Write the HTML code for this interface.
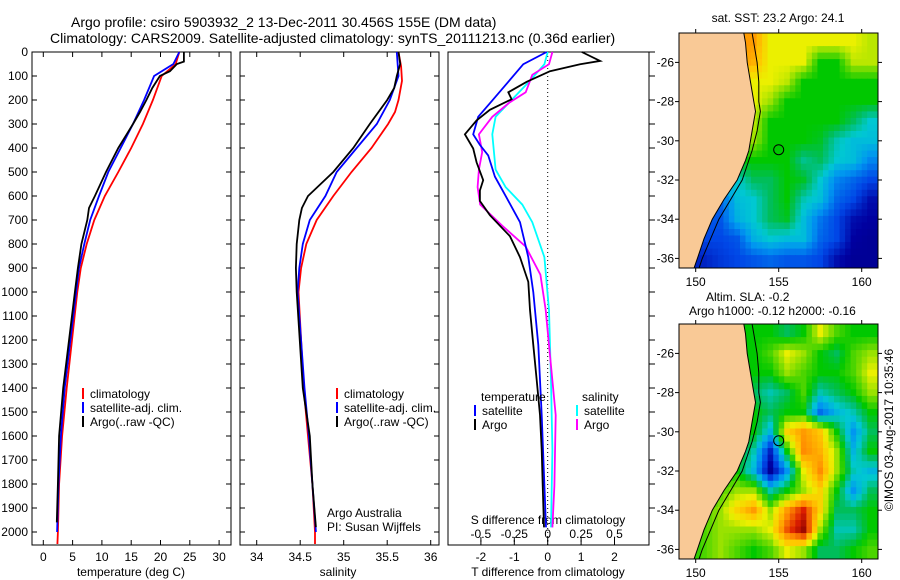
<!DOCTYPE html>
<html><head><meta charset="utf-8"><style>
html,body{margin:0;padding:0;background:#fff}
svg{display:block;font-family:"Liberation Sans",sans-serif}
</style></head><body>
<svg id="s" width="900" height="580" viewBox="0 0 900 580">
<text x="71" y="27" font-size="14">Argo profile: csiro 5903932_2 13-Dec-2011 30.456S 155E (DM data)</text>
<text x="50" y="43" font-size="14">Climatology: CARS2009. Satellite-adjusted climatology: synTS_20111213.nc (0.36d earlier)</text>
<text x="778" y="22" font-size="12" text-anchor="middle">sat. SST: 23.2 Argo: 24.1</text>
<text x="706" y="301" font-size="12">Altim. SLA: -0.2</text>
<text x="689" y="315" font-size="12">Argo h1000: -0.12 h2000: -0.16</text>
<text transform="translate(893,430) rotate(-90)" font-size="12" text-anchor="middle">©IMOS 03-Aug-2017 10:35:46</text>
<g id="g"></g>
</svg>
<script>
// ---- data ----
const tClimD=[0,50,100,200,300,400,500,600,700,800,900,1000,1400,1600,1800,2000,2050];
const tClimV=[23.2,22.6,20.2,18.7,17.0,15.0,12.8,10.5,8.7,7.4,6.4,5.8,4.0,3.2,2.7,2.5,2.4];
const tSatD=[0,50,100,200,300,400,500,600,700,800,900,1000,1400,1600,1800,2000];
const tSatV=[23.2,22.2,18.9,17.2,15.3,13.2,11.1,9.5,8.0,7.0,6.1,5.6,3.65,3.0,2.6,2.35];
const tArgoD=[0,40,50,80,100,150,200,250,300,400,500,600,650,700,800,900,1000,1400,1600,1800,1960];
const tArgoV=[24.0,24.0,22.8,21.6,19.9,18.6,17.6,16.5,15.3,12.8,10.7,8.8,7.8,7.5,6.5,5.9,5.4,3.4,2.7,2.5,2.3];
const sClimD=[0,60,120,200,250,300,400,500,600,700,800,900,1000,1400,1600,1800,2000,2050];
const sClimV=[35.63,35.66,35.67,35.63,35.59,35.51,35.32,35.09,34.88,34.69,34.57,34.51,34.48,34.54,34.59,34.64,34.67,34.67];
const sSatD=[0,100,200,300,400,500,600,700,800,900,1000,1400,1600,1800,2000];
const sSatV=[35.61,35.63,35.53,35.38,35.15,34.92,34.79,34.61,34.53,34.49,34.47,34.55,34.60,34.64,34.68];
const sArgoD=[0,50,100,150,200,300,400,500,600,650,700,800,900,1000,1400,1600,1800,1980];
const sArgoV=[35.63,35.65,35.61,35.58,35.50,35.30,35.11,34.88,34.59,34.52,34.49,34.46,34.45,34.46,34.53,34.61,34.64,34.68];
const dTSatD=[0,51,124,197,270,343,387,431,519,607,709,855,1001,1221,1513,1806,1981];
const dTSatV=[-0.03,-0.73,-1.18,-1.63,-2.08,-2.23,-2.03,-1.78,-1.58,-1.23,-0.83,-0.58,-0.43,-0.28,-0.18,-0.10,-0.05];
const dTArgoD=[0,37,51,80,124,168,197,241,285,343,402,460,534,577,621,680,768,855,958,1075,1221,1367,1513,1659,1806,1981];
const dTArgoV=[1.02,1.57,0.97,0.07,-0.63,-1.18,-1.08,-1.73,-2.13,-2.48,-2.23,-2.13,-1.93,-2.03,-2.03,-1.73,-1.13,-0.83,-0.58,-0.53,-0.43,-0.33,-0.23,-0.18,-0.15,-0.11];
const dSSatD=[0,51,124,197,270,343,490,563,636,709,855,1075,1367,1659,1981];
const dSSatV=[0,-0.025,-0.14,-0.265,-0.39,-0.415,-0.39,-0.315,-0.19,-0.115,-0.025,0.01,0.025,0.035,0.025];
const dSArgoD=[0,51,95,168,212,270,343,417,490,563,636,724,811,928,1075,1221,1513,1806,1981];
const dSArgoV=[0.035,0.01,-0.115,-0.165,-0.29,-0.415,-0.515,-0.49,-0.515,-0.525,-0.505,-0.34,-0.165,-0.055,-0.015,0.01,0.06,0.05,0.035];
const depthTicks=[0,100,200,300,400,500,600,700,800,900,1000,1100,1200,1300,1400,1500,1600,1700,1800,1900,2000];
const tTicks=[0,5,10,15,20,25,30];
const sTicks=[34,34.5,35,35.5,36];
const dTTicks=[-2,-1,0,1,2];
const dSTicks=[-0.5,-0.25,0,0.25,0.5];
const dSTickLabels=["-0.5","-0.25","0","0.25","0.5"];
const lonTicks=[150,155,160];
const latTicks=[-26,-28,-30,-32,-34,-36];
const mapLons=[149.5,150.5,151.5,152.5,153.5,154.5,155.5,156.5,157.5,158.5,159.5,160.5];
const mapLats=[-25,-26,-27,-28,-29,-30,-31,-32,-33,-34,-35,-36];
const sstGrid=[
[.78,.78,.78,.78,.78,.65,.65,.65,.65,.65,.65,.62],
[.78,.78,.78,.78,.75,.65,.65,.65,.5,.5,.62,.62],
[.65,.65,.65,.65,.65,.65,.62,.5,.5,.5,.5,.5],
[.65,.65,.65,.65,.65,.6,.5,.5,.5,.5,.5,.5],
[.65,.65,.65,.65,.62,.5,.5,.5,.5,.5,.45,.38],
[.6,.6,.6,.6,.6,.5,.5,.5,.48,.4,.36,.36],
[.5,.5,.5,.5,.5,.5,.5,.42,.45,.38,.36,.28],
[.4,.4,.4,.38,.45,.45,.5,.48,.38,.28,.24,.2],
[.24,.24,.24,.36,.38,.45,.5,.4,.36,.24,.2,.12],
[.22,.22,.22,.34,.38,.45,.48,.36,.26,.2,.12,.1],
[.2,.2,.2,.22,.34,.38,.36,.36,.24,.2,.1,.08],
[.15,.15,.18,.2,.22,.24,.22,.22,.2,.12,.08,.08]];
const slaGrid=[
[.5,.5,.5,.5,.5,.5,.45,.5,.65,.55,.5,.5],
[.5,.5,.5,.5,.5,.55,.65,.6,.5,.45,.55,.6],
[.5,.5,.5,.5,.5,.5,.6,.55,.5,.5,.55,.65],
[.5,.5,.5,.5,.45,.4,.45,.55,.4,.45,.5,.6],
[.5,.5,.5,.5,.5,.45,.5,.5,.25,.35,.4,.5],
[.5,.5,.5,.5,.5,.35,.7,.78,.72,.5,.3,.45],
[.5,.5,.5,.5,.4,.15,.5,.8,.75,.6,.35,.5],
[.5,.5,.5,.5,.35,.08,.3,.65,.8,.6,.4,.35],
[.5,.5,.55,.6,.6,.4,.5,.6,.7,.5,.3,.45],
[.5,.55,.6,.7,.78,.6,.78,.9,.7,.45,.45,.5],
[.5,.55,.6,.6,.6,.65,.85,.97,.6,.4,.4,.5],
[.5,.55,.6,.55,.5,.55,.65,.6,.45,.45,.5,.55]];
const coastLat=[-24.5,-25,-26,-27,-28,-28.5,-29.5,-30.5,-31,-32,-33,-34,-35,-36,-36.5];
const coastLon=[152.9,153.0,153.1,153.3,153.5,153.6,153.4,153.2,153.0,152.5,151.7,151.0,150.5,150.1,149.9];
const isoLon=[153.4,153.5,153.7,153.8,153.8,153.9,153.7,153.4,153.2,152.8,152.1,151.4,150.9,150.4,150.2];
const argoLon=155, argoLat=-30.456;

// ---- helpers ----
const NS="http://www.w3.org/2000/svg", G=document.getElementById('g');
function mk(tag,at,parent){const e=document.createElementNS(NS,tag);for(const k in at)e.setAttribute(k,at[k]);(parent||G).appendChild(e);return e;}
const y0=52, ky=0.24; const yD=d=>y0+ky*d;
function panel(x1,x2,top,bot,name){
  const r=mk('rect',{x:x1,y:top,width:x2-x1,height:bot-top,fill:'none',stroke:'#000','stroke-width':1});
   
}
function line(D,V,xf,color,name,w){
  const p=mk('polyline',{points:D.map((d,i)=>xf(V[i]).toFixed(1)+','+yD(d).toFixed(1)).join(' '),fill:'none',stroke:color,'stroke-width':w||1.8});
   
}
function txt(x,y,s,anchor,name,size){
  const t=mk('text',{x:x,y:y,'font-size':size||12,'text-anchor':anchor||'start'}); t.textContent=s;
    return t;
}
function tick(x1,y1,x2,y2){const l=mk('line',{x1,y1,x2,y2,stroke:'#000','stroke-width':1});
   }

const TOP=52,BOT=545;
// panel 1 temperature
const xT=v=>43.3+5.86*v;
panel(32,231,TOP,BOT,'temperature-panel');
depthTicks.forEach(d=>{tick(32,yD(d),37,yD(d));tick(226,yD(d),231,yD(d));txt(28,yD(d)+4,String(d),'end','depth-tick-label');});
tTicks.forEach(v=>{tick(xT(v),TOP,xT(v),TOP+5);tick(xT(v),BOT,xT(v),BOT-5);txt(xT(v),561,String(v),'middle','temperature-tick-label');});
txt(131,576,'temperature (deg C)','middle','temperature-axis-title');
line(tClimD,tClimV,xT,'#f00','temperature-climatology-line');
line(tSatD,tSatV,xT,'#00f','temperature-satellite-line');
line(tArgoD,tArgoV,xT,'#000','temperature-argo-line');
[['climatology','#f00',398],['satellite-adj. clim.','#00f',412],['Argo(..raw -QC)','#000',426]].forEach(a=>{
  const m=mk('rect',{x:82,y:a[2]-10,width:2,height:11,fill:a[1]});
  txt(90,a[2],a[0],'start','temperature-legend-entry');});

// panel 2 salinity
const xS=v=>256.7+87*(v-34);
panel(240,439,TOP,BOT,'salinity-panel');
depthTicks.forEach(d=>{tick(240,yD(d),245,yD(d));tick(434,yD(d),439,yD(d));});
sTicks.forEach(v=>{tick(xS(v),TOP,xS(v),TOP+5);tick(xS(v),BOT,xS(v),BOT-5);txt(xS(v),561,String(v),'middle','salinity-tick-label');});
txt(338,576,'salinity','middle','salinity-axis-title');
line(sClimD,sClimV,xS,'#f00','salinity-climatology-line');
line(sSatD,sSatV,xS,'#00f','salinity-satellite-line');
line(sArgoD,sArgoV,xS,'#000','salinity-argo-line');
[['climatology','#f00',398],['satellite-adj. clim.','#00f',412],['Argo(..raw -QC)','#000',426]].forEach(a=>{
  const m=mk('rect',{x:336,y:a[2]-10,width:2,height:11,fill:a[1]});
  txt(344,a[2],a[0],'start','salinity-legend-entry');});
txt(327,517,'Argo Australia','start','argo-australia-label');
txt(327,531,'PI: Susan Wijffels','start','pi-label');

// panel 3 differences
const xdT=v=>547.7+33.4*v, xdS=v=>547.7+133.6*v;
panel(448,649,TOP,BOT,'difference-panel');
depthTicks.forEach(d=>{tick(649,yD(d),655,yD(d));});
const zl=mk('line',{x1:xdT(0),y1:TOP,x2:xdT(0),y2:BOT,stroke:'#000','stroke-width':1,'stroke-dasharray':'1,3'});
 
dTTicks.forEach(v=>{tick(xdT(v),BOT,xdT(v),BOT-5);txt(xdT(v),561,String(v),'middle','t-difference-tick-label');});
dSTicks.forEach((v,i)=>{tick(xdS(v),BOT-3,xdS(v),BOT-8);txt(xdS(v),538,dSTickLabels[i],'middle','s-difference-tick-label');});
txt(548,576,'T difference from climatology','middle','t-difference-axis-title');
txt(548,524,'S difference from climatology','middle','s-difference-axis-title');
line(dSSatD,dSSatV,xdS,'#0ff','salinity-satellite-diff-line');
line(dSArgoD,dSArgoV,xdS,'#f0f','salinity-argo-diff-line');
line(dTSatD,dTSatV,xdT,'#00f','temperature-satellite-diff-line');
line(dTArgoD,dTArgoV,xdT,'#000','temperature-argo-diff-line');
txt(481,401,'temperature','start','diff-legend-heading');
txt(582,401,'salinity','start','diff-legend-heading');
[['satellite','#00f',482,415],['Argo','#000',482,429],['satellite','#0ff',584,415],['Argo','#f0f',584,429]].forEach(a=>{
  const m=mk('rect',{x:a[2]-8,y:a[3]-10,width:2,height:11,fill:a[1]});
  txt(a[2],a[3],a[0],'start','diff-legend-entry');});

// maps
const cStops=[[0,[0,0,110]],[0.1,[0,0,160]],[0.2,[0,70,230]],[0.3,[0,150,240]],[0.38,[0,200,210]],[0.45,[0,190,90]],[0.5,[0,200,0]],[0.58,[120,220,0]],[0.65,[235,240,0]],[0.72,[255,200,0]],[0.8,[255,140,0]],[0.9,[220,30,0]],[1,[130,0,0]]];
function cmap(v){v=Math.max(0,Math.min(1,v));
  for(let i=1;i<cStops.length;i++){if(v<=cStops[i][0]){const a=cStops[i-1],b=cStops[i],t=(v-a[0])/(b[0]-a[0]);
    return 'rgb('+a[1].map((c,k)=>Math.round(c+(b[1][k]-c)*t)).join(',')+')';}}
  return 'rgb(130,0,0)';}
function sample(grid,fi,fj){
  fi=Math.max(0,Math.min(grid.length-1,fi)); fj=Math.max(0,Math.min(grid[0].length-1,fj));
  const i0=Math.floor(fi),j0=Math.floor(fj),i1=Math.min(i0+1,grid.length-1),j1=Math.min(j0+1,grid[0].length-1),a=fi-i0,b=fj-j0;
  return grid[i0][j0]*(1-a)*(1-b)+grid[i1][j0]*a*(1-b)+grid[i0][j1]*(1-a)*b+grid[i1][j1]*a*b;}
function map(top,grid,name){
  const L=679,R=878,T=top,B=top+235;
  const xL=lon=>695.7+16.6*(lon-150), yL=lat=>T+29.4+19.6*(-26-lat);
  const clip=mk('clipPath',{id:'c'+name});mk('rect',{x:L,y:T,width:R-L,height:B-T},clip);
  const g=mk('g',{'clip-path':'url(#c'+name+')'});
   
  const sub=3;
  for(let i=-0.5;i<grid.length-0.5+1e-9;i+=1/sub){
    for(let j=-0.5;j<grid[0].length-0.5+1e-9;j+=1/sub){
      const ci=i+0.5/sub,cj=j+0.5/sub;
      const lat=mapLats[0]-ci, lon=mapLons[0]+cj;
      const c=mk('rect',{x:(xL(lon)-16.6/sub/2).toFixed(1),y:(yL(lat)-19.6/sub/2).toFixed(1),width:(16.6/sub+0.6).toFixed(1),height:(19.6/sub+0.6).toFixed(1),fill:cmap(sample(grid,ci,cj))},g);
       
    }
  }
  const pts=coastLat.map((la,i)=>xL(coastLon[i]).toFixed(1)+','+yL(la).toFixed(1));
  const land=mk('polygon',{points:'600,'+(T-20)+' '+pts.join(' ')+' 600,'+(B+20),fill:'#f9c996',stroke:'#000','stroke-width':1},g);
   
  const iso=mk('polyline',{points:coastLat.map((la,i)=>xL(isoLon[i]).toFixed(1)+','+yL(la).toFixed(1)).join(' '),fill:'none',stroke:'#000','stroke-width':1},g);
   
  const ac=mk('circle',{cx:xL(argoLon),cy:yL(argoLat),r:5,fill:'none',stroke:'#000','stroke-width':1});
   
  panel(L,R,T,B,name+'-map-frame');
  latTicks.forEach(la=>{tick(L-4,yL(la),L,yL(la));tick(R,yL(la),R+4,yL(la));txt(L-5,yL(la)+4,String(la),'end','latitude-tick-label');});
  lonTicks.forEach(lo=>{tick(xL(lo),T-4,xL(lo),T);tick(xL(lo),B,xL(lo),B+4);txt(xL(lo),B+18,String(lo),'middle','longitude-tick-label');});
}
map(33,sstGrid,'sst');
map(324,slaGrid,'sla');
</script>
</body></html>
